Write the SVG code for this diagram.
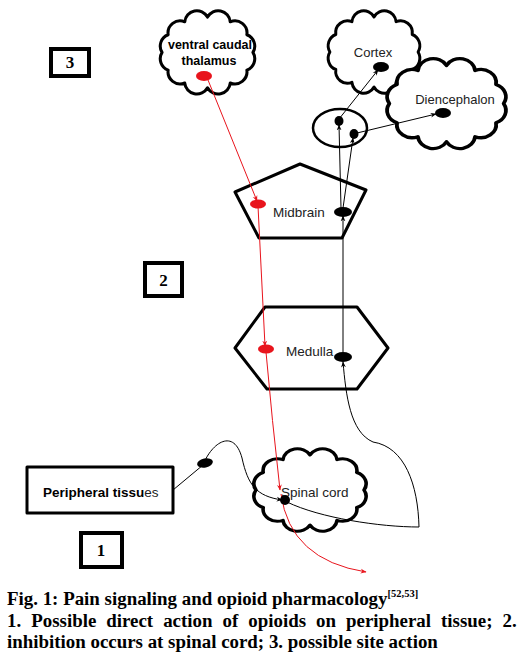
<svg xmlns="http://www.w3.org/2000/svg" xmlns:xlink="http://www.w3.org/1999/xlink" width="521" height="656" viewBox="0 0 521 656">
<style>
.shape{fill:#fff;stroke:#000;stroke-width:3;vector-effect:non-scaling-stroke;stroke-linejoin:round}
.num{fill:#fff;stroke:#000;stroke-width:4}
.lbl{font-family:"Liberation Sans",Arial,sans-serif;font-size:13.5px;fill:#222}
.bl{font-weight:bold;fill:#000}
.numt{font-family:"Liberation Serif","Times New Roman",serif;font-weight:bold;font-size:17px;fill:#000}
.cap{font-family:"Liberation Serif","Times New Roman",serif;font-weight:bold;font-size:18.9px;fill:#000}
.blk{fill:none;stroke:#000;stroke-width:1}
.red{fill:none;stroke:#e8141c;stroke-width:1}
</style>
<defs>
<path id="cloud" d="M95,40 A12,12 0 0 1 88.97,57.5 A12,12 0 0 1 72.5,70.31 A12,12 0 0 1 50,75 A12,12 0 0 1 27.5,70.31 A12,12 0 0 1 11.03,57.5 A12,12 0 0 1 5,40 A12,12 0 0 1 11.03,22.5 A12,12 0 0 1 27.5,9.69 A12,12 0 0 1 50,5 A12,12 0 0 1 72.5,9.69 A12,12 0 0 1 88.97,22.5 A12,12 0 0 1 95,40 Z"/>
<marker id="ab" viewBox="0 0 10 10" refX="9" refY="5" markerWidth="6" markerHeight="6" orient="auto"><path d="M0,1 L10,5 L0,9 L3,5 Z" fill="#000"/></marker>
<marker id="ar" viewBox="0 0 10 10" refX="9" refY="5" markerWidth="6" markerHeight="6" orient="auto"><path d="M0,1 L10,5 L0,9 L3,5 Z" fill="#e8141c"/></marker>
</defs>

<g id="box3"><rect class="num" x="51" y="49" width="38" height="27"/><text class="numt" x="70" y="68" text-anchor="middle">3</text></g>
<g id="box2"><rect class="num" x="145" y="263" width="37" height="33"/><text class="numt" x="163.5" y="286" text-anchor="middle">2</text></g>
<g id="box1"><rect class="num" x="81" y="533" width="41" height="34"/><text class="numt" x="101" y="556" text-anchor="middle">1</text></g>

<g id="thalamus">
<use xlink:href="#cloud" class="shape" transform="translate(157,12) scale(1.01,1.01)"/>
<text class="lbl bl" style="font-size:12.5px" x="210" y="49" text-anchor="middle">ventral caudal</text>
<text class="lbl bl" style="font-size:12.5px" x="209" y="65" text-anchor="middle">thalamus</text>
<ellipse cx="204" cy="76" rx="8" ry="5" fill="#e8141c"/>
</g>

<g id="cortex">
<use xlink:href="#cloud" class="shape" transform="translate(325,12) scale(0.98,1)"/>
<text class="lbl" style="font-size:13px" x="373" y="57" text-anchor="middle">Cortex</text>
<ellipse cx="381" cy="67" rx="8" ry="5" fill="#000"/>
</g>

<g id="diencephalon">
<use xlink:href="#cloud" class="shape" transform="translate(383,60) scale(1.27,1.09)"/>
<text class="lbl" style="font-size:13px" x="455" y="104" text-anchor="middle">Diencephalon</text>
<ellipse cx="443" cy="113" rx="8" ry="5" fill="#000"/>
</g>

<g id="relay">
<ellipse cx="340" cy="128" rx="27" ry="19" fill="#fff" stroke="#000" stroke-width="2.5"/>
<ellipse cx="339" cy="121" rx="4.5" ry="5" fill="#000"/>
<ellipse cx="354" cy="134" rx="4.5" ry="5" fill="#000"/>
</g>

<g id="midbrain">
<polygon class="shape" points="300,164 366,190 342,238 259,238 235,192"/>
<text class="lbl" x="273" y="217">Midbrain</text>
<ellipse cx="258" cy="204" rx="8" ry="4.5" fill="#e8141c"/>
<ellipse cx="343" cy="212" rx="9" ry="5" fill="#000"/>
</g>

<g id="medulla">
<polygon class="shape" points="235,348 265,307 357,307 388,348 357,389 267,389"/>
<text class="lbl" x="286" y="356">Medulla</text>
<ellipse cx="266" cy="349" rx="8" ry="4.5" fill="#e8141c"/>
<ellipse cx="343" cy="357" rx="9" ry="5" fill="#000"/>
</g>

<g id="peripheral">
<rect class="shape" x="27" y="467" width="146" height="46"/>
<text class="lbl bl" x="43" y="497">Peripheral tissu<tspan style="font-weight:normal;fill:#222">es</tspan></text>
</g>

<g id="spinal">
<use xlink:href="#cloud" class="shape" transform="translate(250,450) scale(1.2,1)"/>
<text class="lbl" x="281" y="497">Spinal cord</text>
</g>

<g id="connectors">
<path class="red" d="M208,80 L257,201" marker-end="url(#ar)"/>
<path class="red" d="M258,206 L265,346" marker-end="url(#ar)"/>
<path class="red" d="M266,352 Q272,420 280,490" marker-end="url(#ar)"/>
<path class="red" d="M281,494 Q290,560 366,572" marker-end="url(#ar)"/>
<path class="blk" d="M343,352 L343,216" marker-end="url(#ab)"/>
<path class="blk" d="M341,208 L339,125" marker-end="url(#ab)"/>
<path class="blk" d="M343,208 L353,138" marker-end="url(#ab)"/>
<path class="blk" d="M339,119 L378,70" marker-end="url(#ab)"/>
<path class="blk" d="M357,133 L436,114" marker-end="url(#ab)"/>
<path class="blk" d="M173,490 L203,465 C212,442 234,428 242,458 C248,485 256,496 282,500" marker-end="url(#ab)"/>
<path class="blk" d="M287,502 C320,518 380,527 419,527 C418,485 405,447 373,442 C350,432 346,395 343,362" marker-end="url(#ab)"/>
<circle cx="285" cy="500" r="5" fill="#000"/>
<ellipse cx="205" cy="463" rx="8" ry="4.5" fill="#000" transform="rotate(-12 205 463)"/>
</g>

<g id="caption">
<text class="cap" x="7" y="605">Fig. 1: Pain signaling and opioid pharmacology<tspan font-size="10.5" dy="-8">[52,53]</tspan></text>
<text class="cap" x="7" y="627" style="word-spacing:5.3px">1. Possible direct action of opioids on peripheral tissue; 2.</text>
<text class="cap" x="7" y="648">inhibition occurs at spinal cord; 3. possible site action</text>
</g>
</svg>
